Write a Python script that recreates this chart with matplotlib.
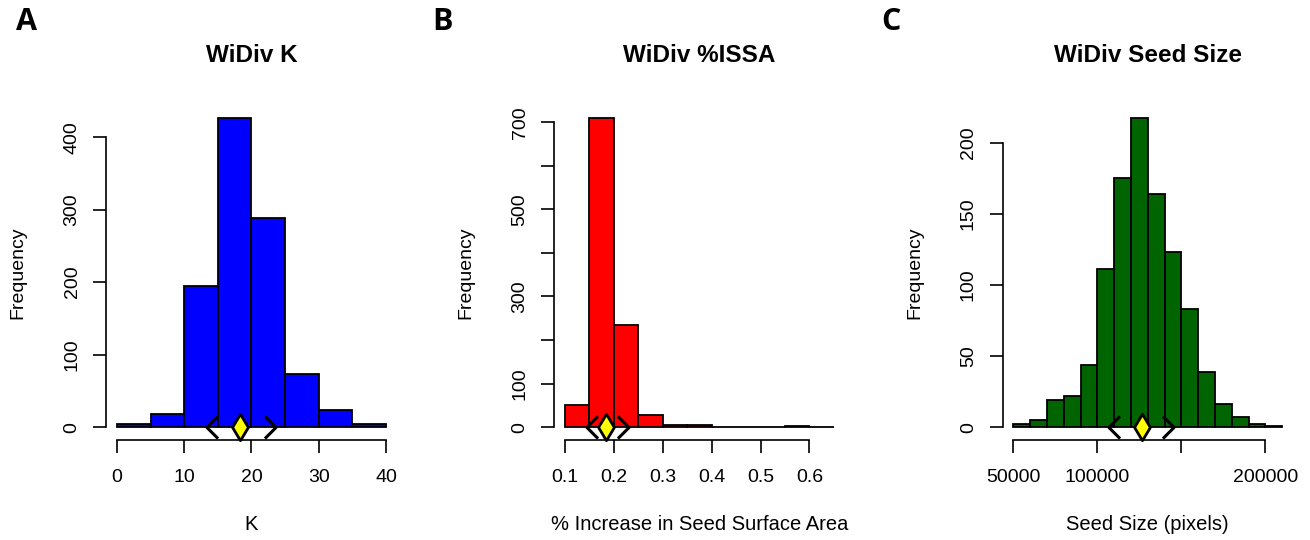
import matplotlib

matplotlib.use("Agg")
import matplotlib.pyplot as plt
import numpy as np
from matplotlib.path import Path

plt.rcParams["font.family"] = ["Liberation Sans", "DejaVu Sans"]

# histogram breaks and counts
k_breaks = [0, 5, 10, 15, 20, 25, 30, 35, 40]
k_counts = [4, 18, 195, 426, 289, 73, 23, 5]

issa_breaks = [0.10, 0.15, 0.20, 0.25, 0.30, 0.35, 0.40, 0.45, 0.50, 0.55, 0.60, 0.65]
issa_counts = [50, 709, 234, 27, 6, 4, 0, 0, 0, 3, 1]

seed_breaks = [50000, 60000, 70000, 80000, 90000, 100000, 110000, 120000, 130000,
               140000, 150000, 160000, 170000, 180000, 190000, 200000, 210000]
seed_counts = [2, 5, 19, 22, 44, 111, 175, 217, 164, 123, 83, 39, 16, 7, 2, 1]

# (lower, centre, upper) markers drawn under each histogram
k_marks = [14.2, 18.3, 22.7]
issa_marks = [0.155, 0.1835, 0.218]
seed_marks = [109700, 126300, 141900]

k_xticks = [0, 10, 20, 30, 40]
k_xlabels = ["0", "10", "20", "30", "40"]
k_yticks = [0, 100, 200, 300, 400]
k_ylabels = ["0", "100", "200", "300", "400"]

issa_xticks = [0.1, 0.2, 0.3, 0.4, 0.5, 0.6]
issa_xlabels = ["0.1", "0.2", "0.3", "0.4", "0.5", "0.6"]
issa_yticks = [0, 100, 200, 300, 400, 500, 600, 700]
issa_ylabels = ["0", "100", "", "300", "", "500", "", "700"]

seed_xticks = [50000, 100000, 150000, 200000]
seed_xlabels = ["50000", "100000", "", "200000"]
seed_yticks = [0, 50, 100, 150, 200]
seed_ylabels = ["0", "50", "100", "150", "200"]

W, H = 1310, 540
fig = plt.figure(figsize=(W / 100, H / 100), dpi=100)
fig.patch.set_facecolor("white")


def fx(px):
    return px / W


def fy(py):
    return 1 - py / H


diamond = Path([(0, 1), (0.6, 0), (0, -1), (-0.6, 0), (0, 1)],
               [Path.MOVETO, Path.LINETO, Path.LINETO, Path.LINETO, Path.CLOSEPOLY])
left_chev = Path([(0.5, 1), (-0.5, 0), (0.5, -1)],
                 [Path.MOVETO, Path.LINETO, Path.LINETO])
right_chev = Path([(-0.5, 1), (0.5, 0), (-0.5, -1)],
                  [Path.MOVETO, Path.LINETO, Path.LINETO])


def panel(left_px, title, xlabel, breaks, counts, color, marks,
          xticks, xlabels, yticks, ylabels):
    top_px, bot_px, width_px = 106, 439.5, 290.5
    ax = fig.add_axes([fx(left_px), fy(bot_px), width_px / W, (bot_px - top_px) / H])
    breaks = np.asarray(breaks, dtype=float)
    widths = np.diff(breaks)
    ax.bar(breaks[:-1], counts, width=widths, align="edge", color=color,
           edgecolor="black", linewidth=1.3, zorder=2)

    # R style 4% padding
    xr = breaks[-1] - breaks[0]
    ax.set_xlim(breaks[0] - 0.04 * xr, breaks[-1] + 0.04 * xr)
    ymax = max(counts)
    ax.set_ylim(-0.04 * ymax, ymax * 1.04)

    for sp in ["top", "right"]:
        ax.spines[sp].set_visible(False)
    ax.spines["left"].set_bounds(yticks[0], yticks[-1])
    ax.spines["bottom"].set_bounds(xticks[0], xticks[-1])
    for sp in ["left", "bottom"]:
        ax.spines[sp].set_linewidth(1.2)

    ax.set_xticks(xticks, xlabels)
    ax.set_yticks(yticks, ylabels, rotation=90, va="center")
    ax.tick_params(axis="both", direction="out", length=9.5, width=1.2)
    ax.tick_params(axis="x", labelsize=14, pad=12)
    ax.tick_params(axis="y", labelsize=14, pad=9)

    lo, mid, hi = marks
    ax.plot([lo], [0], marker=left_chev, ms=16, mfc="none", mec="black",
            mew=2.2, ls="none", clip_on=False, zorder=4)
    ax.plot([hi], [0], marker=right_chev, ms=16, mfc="none", mec="black",
            mew=2.2, ls="none", clip_on=False, zorder=4)
    ax.plot([mid], [0], marker=diamond, ms=19, mfc="#FFFF00", mec="black",
            mew=2.0, ls="none", clip_on=False, zorder=5)

    cx = left_px + width_px / 2
    fig.text(fx(cx), fy(56), title, ha="center", va="center",
             fontsize=17.5, fontweight="bold")
    fig.text(fx(cx), fy(525), xlabel, ha="center", va="center", fontsize=14.5)
    fig.text(fx(left_px - 88), fy((top_px + bot_px) / 2), "Frequency",
             rotation=90, ha="center", va="center", fontsize=14)
    return ax


panel(106.2, "WiDiv K", "K", k_breaks, k_counts, "#0000FF", k_marks,
      k_xticks, k_xlabels, k_yticks, k_ylabels)
panel(554.2, "WiDiv %ISSA", "% Increase in Seed Surface Area", issa_breaks,
      issa_counts, "#FF0000", issa_marks, issa_xticks, issa_xlabels,
      issa_yticks, issa_ylabels)
panel(1002.5, "WiDiv Seed Size", "Seed Size (pixels)", seed_breaks,
      seed_counts, "#006400", seed_marks, seed_xticks, seed_xlabels,
      seed_yticks, seed_ylabels)

# panel letters
for letter, px in [("A", 26), ("B", 442.5), ("C", 890.5)]:
    fig.text(fx(px), fy(22.5), letter, ha="center", va="center",
             fontsize=22, fontweight="bold", family=["Open Sans", "DejaVu Sans"])

fig.savefig("out.png", dpi=100, facecolor="white")
